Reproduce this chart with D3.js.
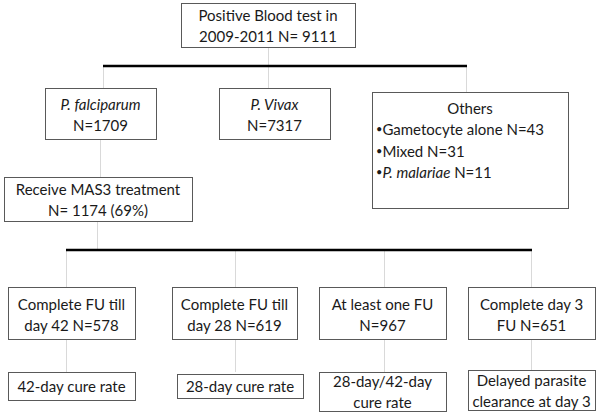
<!DOCTYPE html>
<html>
<head>
<meta charset="utf-8">
<script src="https://cdn.jsdelivr.net/npm/d3@7"></script>
<style>
  html, body { margin: 0; padding: 0; background: #fff; }
  svg { display: block; }
  text { font-family: Lato, "Open Sans", sans-serif; font-size: 15px; fill: #1a1a1a; }
</style>
</head>
<body>
<svg id="chart" width="600" height="412"></svg>
<script>
// ---- data ----
const rootLines = ["Positive Blood test in", "2009-2011 N= 9111"];
const speciesNames = ["P. falciparum", "P. Vivax"];
const speciesN = [1709, 7317];
const othersTitle = "Others";
const othersNames = ["Gametocyte alone", "Mixed", "P. malariae"];
const othersItalic = [false, false, true];
const othersN = [43, 31, 11];
const treatmentLabel = "Receive MAS3 treatment";
const treatmentN = 1174;
const treatmentPct = 69;
const followUpLines = [
  ["Complete FU till", "day 42 N=578"],
  ["Complete FU till", "day 28 N=619"],
  ["At least one FU", "N=967"],
  ["Complete day 3", "FU N=651"]
];
const outcomeLines = [
  ["42-day cure rate"],
  ["28-day cure rate"],
  ["28-day/42-day", "cure rate"],
  ["Delayed parasite", "clearance at day 3"]
];

// ---- layout ----
const svg = d3.select("#chart");
const boxStroke = "#595959";
const connColor = "#d9d9d9";
const lineH = 21;

function box(x0, y0, x1, y1) {
  svg.append("rect").attr("x", x0 + 0.5).attr("y", y0 + 0.5)
    .attr("width", x1 - x0).attr("height", y1 - y0)
    .attr("fill", "#fff").attr("stroke", boxStroke).attr("stroke-width", 1);
}
function centeredText(lines, cx, cy) {
  // lines: array of arrays of segments {t, i}
  const n = lines.length;
  lines.forEach((segs, k) => {
    const t = svg.append("text").attr("x", cx)
      .attr("y", cy + (k - (n - 1) / 2) * lineH)
      .attr("text-anchor", "middle").attr("dominant-baseline", "central");
    segs.forEach(s => t.append("tspan").text(s.t).attr("font-style", s.i ? "italic" : null));
  });
}
function conn(x, y0, y1) {
  svg.append("line").attr("x1", x + 0.5).attr("x2", x + 0.5).attr("y1", y0).attr("y2", y1)
    .attr("stroke", connColor).attr("stroke-width", 1);
}
function hbar(x0, x1, y) {
  svg.append("line").attr("x1", x0).attr("x2", x1).attr("y1", y).attr("y2", y)
    .attr("stroke", "#000").attr("stroke-width", 2.5);
}
const plain = s => [{t: s, i: false}];

// connectors (drawn first)
conn(268, 47, 65);
conn(103, 67, 88); conn(268, 67, 88); conn(466, 67, 92);
conn(100, 139, 177);
conn(97, 221, 249);
const fuConnX = [66, 235, 384, 531];
fuConnX.forEach(x => { conn(x, 251, 287); conn(x, 339, 372); });

// bars
hbar(103, 467, 66);
hbar(66, 532, 250);

// root
box(181, 3, 355, 47);
centeredText(rootLines.map(plain), 268, 25.5);

// species
const speciesBoxes = [[45, 156], [219, 330]];
speciesNames.forEach((name, i) => {
  const [x0, x1] = speciesBoxes[i];
  box(x0, 88, x1, 139);
  centeredText([[{t: name, i: true}], plain("N=" + speciesN[i])], (x0 + x1) / 2, 114);
});

// others
box(372, 92, 568, 208);
svg.append("text").attr("x", 470).attr("y", 108).attr("text-anchor", "middle")
  .attr("dominant-baseline", "central").text(othersTitle);
othersNames.forEach((name, i) => {
  const t = svg.append("text").attr("x", 376).attr("y", 129 + i * 21.5)
    .attr("dominant-baseline", "central");
  t.append("tspan").text("•").attr("font-size", "11px").attr("dy", "-1");
  t.append("tspan").text(name).attr("font-style", othersItalic[i] ? "italic" : null).attr("dy", "1");
  t.append("tspan").text(" N=" + othersN[i]);
});

// treatment
box(4, 177, 192, 221);
centeredText([plain(treatmentLabel), plain("N= " + treatmentN + " (" + treatmentPct + "%)")], 98, 199.5);

// follow-up boxes
const fuBoxes = [[8, 135], [172, 297], [319, 446], [468, 595]];
followUpLines.forEach((lines, i) => {
  const [x0, x1] = fuBoxes[i];
  box(x0, 287, x1, 339);
  centeredText(lines.map(plain), (x0 + x1) / 2, 314);
});

// outcome boxes
const outBoxes = [[8, 135, 372, 400], [177, 303, 374, 398], [319, 446, 372, 411], [468, 595, 370, 410]];
outcomeLines.forEach((lines, i) => {
  const [x0, x1, y0, y1] = outBoxes[i];
  box(x0, y0, x1, y1);
  centeredText(lines.map(plain), (x0 + x1) / 2, (y0 + y1) / 2);
});
</script>
</body>
</html>
